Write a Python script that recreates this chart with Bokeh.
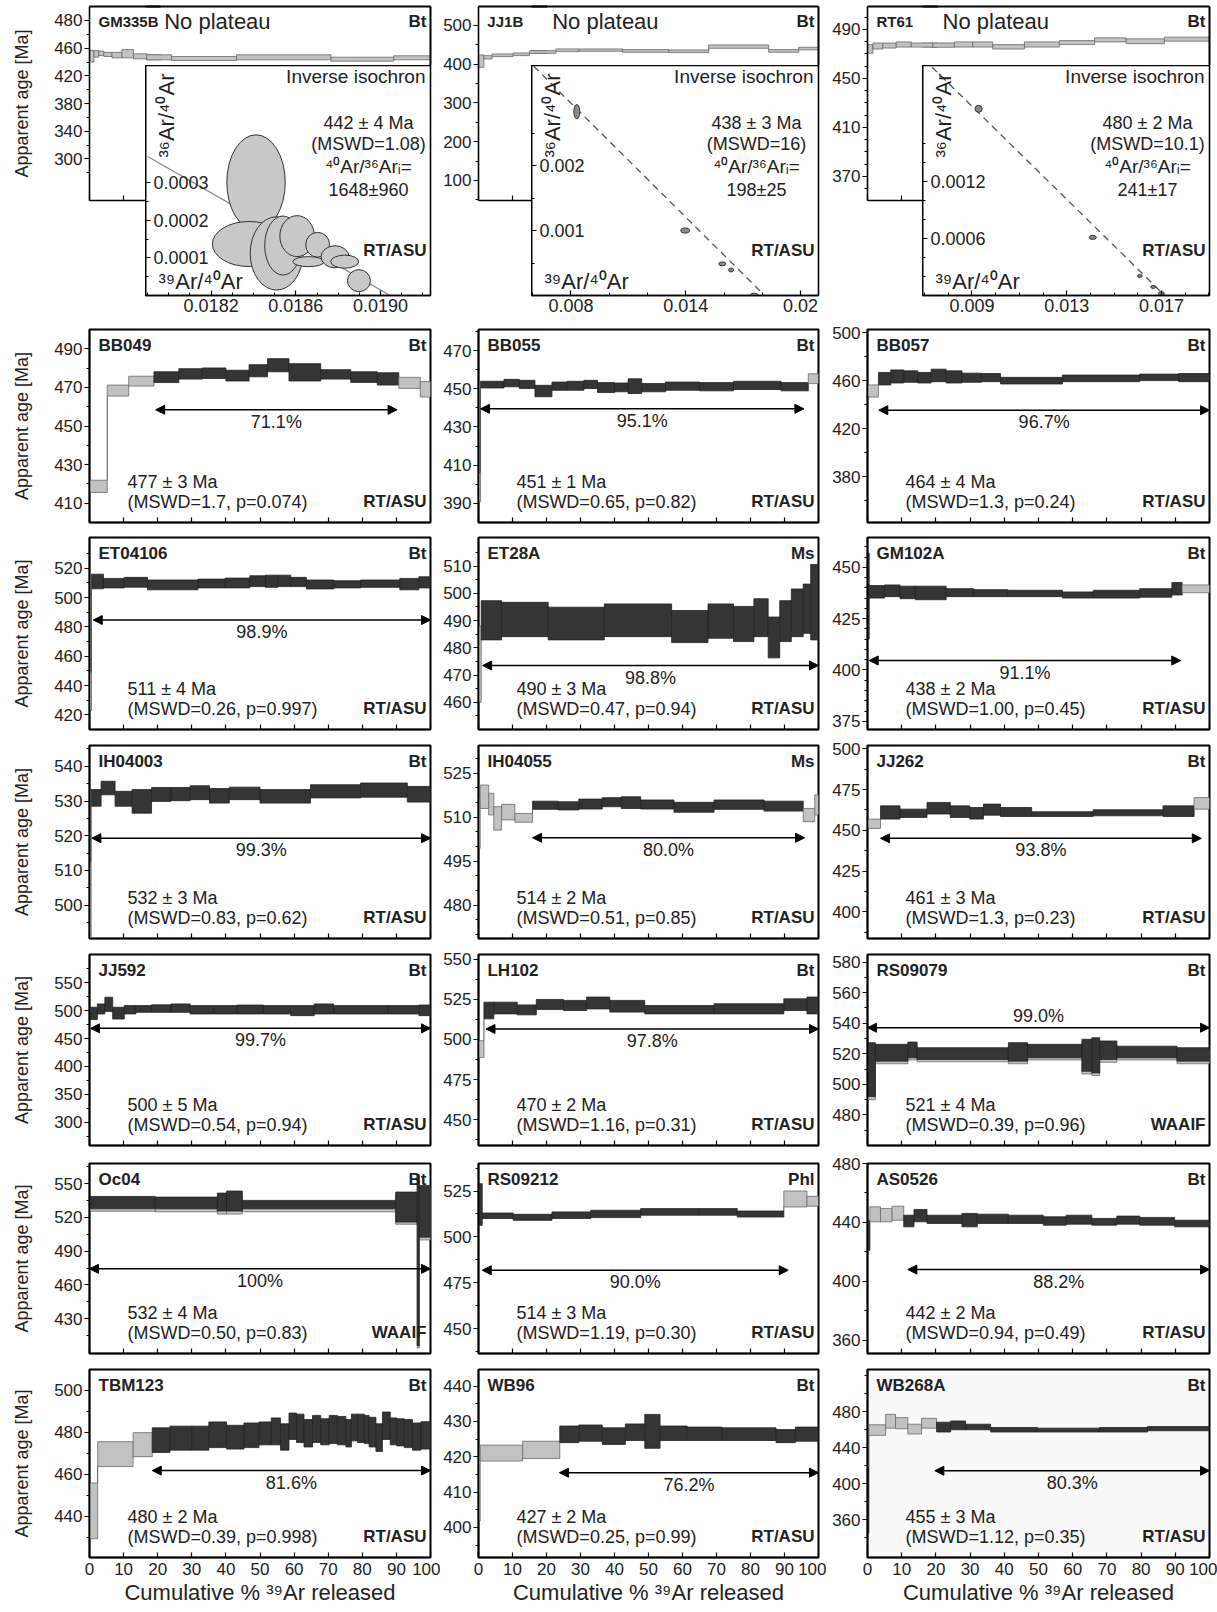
import math
from bokeh.plotting import figure
from bokeh.models import (ColumnDataSource, FixedTicker, Range1d, Arrow, NormalHead, LinearAxis,
                          Row, Column)
from bokeh.embed import file_html
from bokeh.resources import INLINE
from bokeh.core.properties import value

FONT = "Liberation Sans"
DARK = "#353535"
LIGHT = "#c2c2c2"
TXT = "#222222"

X_TICKS = [0, 10, 20, 30, 40, 50, 60, 70, 80, 90, 100]
X_TICK_LABELS = ["0", "10", "20", "30", "40", "50", "60", "70", "80", "90", "100"]

# ---------------- top row: age spectra without plateau ----------------
GM335B_cum = [0, 1.3, 2.7, 4.2, 6.6, 9.5, 12.9, 16.8, 24.1, 43.1, 70.8, 89.2, 100]
GM335B_lo = [450, 453.5, 454.7, 454, 453, 453, 452.3, 451.6, 451.1, 451.6, 450.6, 451.6]
GM335B_hi = [458.3, 458.3, 457.9, 457, 457, 459, 455.9, 455.2, 454, 455.2, 453.5, 454.5]
GM335B_ticks = [380, 400, 420, 440, 460, 480]
GM335B_tick_labels = ["300", "340", "380", "420", "460", "480"]

JJ1B_cum = [0, 1.6, 4.0, 10.3, 15.2, 23, 29.8, 42.5, 56.1, 67.8, 85.4, 94.2, 100]
JJ1B_lo = [392, 413.4, 419.5, 422.1, 428.1, 432.5, 433.3, 430.8, 429.9, 441.1, 430.8, 437]
JJ1B_hi = [424, 422.1, 426.4, 429, 435, 439.4, 439.4, 437.7, 436.8, 449.8, 437.7, 443.7]
JJ1B_ticks = [100, 200, 300, 400, 500]
JJ1B_tick_labels = ["100", "200", "300", "400", "500"]

RT61_cum = [0, 1.6, 4.5, 8.4, 12.8, 19.1, 25.4, 30.8, 36.6, 45.9, 56.1, 66.4, 75.6, 86.8, 100]
RT61_lo = [470.5, 473.9, 474.7, 475.5, 475.5, 475.3, 475.5, 475.5, 473.9, 475.5, 477.5, 479.7, 478.3, 480.3]
RT61_hi = [477.5, 478.8, 478.8, 479.7, 478.8, 478.8, 479.7, 479.7, 477.5, 479.7, 480.8, 483, 482.2, 483.6]
RT61_ticks = [370, 410, 450, 490]
RT61_tick_labels = ["370", "410", "450", "490"]

# ---------------- inverse isochron insets ----------------
ISO1_x = [0.018412, 0.018379, 0.018509, 0.018539, 0.018606, 0.018703, 0.01866, 0.018785, 0.018831, 0.018898]
ISO1_y = [0.000301, 0.000137, 0.000112, 0.000133, 0.000158, 0.000135, 0.0000901, 0.000103, 0.0000901, 0.0000395]
ISO1_w = [0.000276, 0.000346, 0.000249, 0.000172, 0.000163, 0.000113, 0.000148, 0.000132, 0.000132, 0.000108]
ISO1_h = [0.000253, 0.00012, 0.000195, 0.000157, 0.000109, 0.000066, 0.0000267, 0.0000587, 0.0000347, 0.0000587]
ISO1_line_x = [0.0179, 0.019046]
ISO1_line_y = [0.00037, 0.0]
ISO1_xticks = [0.0182, 0.0186, 0.0190]
ISO1_xtick_labels = ["0.0182", "0.0186", "0.0190"]
ISO1_yticks = [0.0001, 0.0002, 0.0003]
ISO1_ytick_labels = ["0.0001", "0.0002", "0.0003"]

ISO2_x = [0.008304, 0.013969, 0.015908, 0.016372, 0.017578]
ISO2_y = [0.00283, 0.001, 0.000487, 0.000393, 0.00001]
ISO2_w = [0.00031, 0.00046, 0.00036, 0.00026, 0.00041]
ISO2_h = [0.00022, 0.000078, 0.00006, 0.00006, 0.00005]
ISO2_line_x = [0.006048, 0.018125]
ISO2_line_y = [0.00353, 0.0]
ISO2_xticks = [0.008, 0.014, 0.02]
ISO2_xtick_labels = ["0.008", "0.014", "0.02"]
ISO2_yticks = [0.001, 0.002]
ISO2_ytick_labels = ["0.001", "0.002"]

ISO3_x = [0.00928, 0.0141, 0.01609, 0.01665, 0.0170]
ISO3_y = [0.00196, 0.00061, 0.000205, 0.0000895, 0.00002]
ISO3_w = [0.0003, 0.0003, 0.0002, 0.0002, 0.00025]
ISO3_h = [0.000073, 0.000042, 0.00003, 0.00003, 0.00004]
ISO3_line_x = [0.007316, 0.01714]
ISO3_line_y = [0.002397, 0.0]
ISO3_xticks = [0.009, 0.013, 0.017]
ISO3_xtick_labels = ["0.009", "0.013", "0.017"]
ISO3_yticks = [0.0006, 0.0012]
ISO3_ytick_labels = ["0.0006", "0.0012"]

# ---------------- plateau spectra ----------------
BB049_cum = [0, 5.2, 11.5, 18.9, 26.2, 33.1, 40.0, 46.8, 52.2, 58.5, 67.8, 76.6, 84.4, 90.7, 97, 100]
BB049_lo = [415.6, 465.5, 470.7, 472.5, 474.3, 474.6, 473.3, 475.5, 478.1, 473.3, 474.3, 472.6, 471.2, 469.5, 465]
BB049_hi = [421.9, 471.2, 475.8, 478.1, 479.7, 480.1, 478.9, 481.8, 484.9, 482.3, 479.2, 478.1, 477.6, 475.2, 473]
BB049_flags = "LLLDDDDDDDDDDLL"

BB055_cum = [0, 0.6, 7.5, 12, 16.6, 21.6, 26, 31, 35, 40, 44, 48, 55, 65, 75, 89, 97, 100]
BB055_lo = [391, 450.4, 451, 450.1, 445.8, 449.2, 449.2, 450.1, 448, 448.4, 447.5, 448.4, 449.2, 448.9, 449.6, 448.9, 452.7]
BB055_hi = [406, 453.9, 454.9, 454.4, 451.8, 453.5, 453.9, 454.4, 453.2, 453, 455.2, 452.7, 453.5, 453.2, 453.9, 453.2, 457.8]
BB055_flags = "LDDDDDDDDDDDDDDDL"

BB057_cum = [0, 3.2, 6.8, 10.6, 14.7, 18.6, 23, 27.6, 33.3, 38.9, 57, 79.6, 91, 100]
BB057_lo = [446.3, 456.4, 458, 458.6, 458, 459.1, 458, 458.6, 459.1, 457.2, 459.1, 460, 459.1]
BB057_hi = [456.4, 466.8, 468.9, 468.1, 466.8, 469.5, 468.1, 466.2, 465.9, 462.7, 464.6, 465.4, 465.9]
BB057_flags = "LDDDDDDDDDDDD"

ET04106_cum = [0, 0.6, 4.1, 10.2, 17, 31.8, 39.8, 47, 51.6, 55.2, 59, 63.6, 71.6, 79.5, 91, 96.6, 100]
ET04106_lo = [423, 506, 506.6, 507.1, 505.3, 506.6, 506.6, 507.5, 507, 507.5, 507.5, 505.9, 506.6, 507, 505.3, 506.6]
ET04106_hi = [449, 516, 513.1, 513.8, 512, 512.6, 513.3, 514.9, 515.3, 515.3, 513.8, 512, 511.5, 512, 513.1, 514.2]
ET04106_flags = "LDDDDDDDDDDDDDDD"

ET28A_cum = [0, 0.8, 6.8, 20.5, 37, 56.8, 67.5, 75, 81, 85.2, 88.6, 92, 95.5, 97.7, 100]
ET28A_lo = [460, 482.9, 484.1, 482.9, 484.1, 481.9, 483.5, 482.3, 484.1, 476.3, 482.3, 484.1, 485.3, 482.9]
ET28A_hi = [488, 497.3, 496.7, 494.9, 496.1, 493.7, 496.1, 495.2, 498, 491.3, 497.3, 501.6, 503.4, 510.6]
ET28A_flags = "LDDDDDDDDDDDDD"

GM102A_cum = [0, 0.5, 5, 9.5, 14, 23, 31, 41, 57, 66, 79.6, 89, 92, 100]
GM102A_lo = [415, 435, 435.7, 434.7, 434.2, 435.7, 435.7, 435.7, 435, 435, 435.4, 436.5, 437.6]
GM102A_hi = [457, 441.1, 441.4, 440.8, 440.8, 439.6, 439.1, 438.8, 438, 438.8, 439.6, 442.6, 441.4]
GM102A_flags = "DDDDDDDDDDDDL"

IH04003_cum = [0, 0.5, 3.4, 7.5, 12.5, 18.2, 23.9, 29.5, 35.2, 41, 50, 64.8, 79.5, 93.2, 100]
IH04003_lo = [490.5, 528.5, 531.8, 528.5, 526.5, 529.9, 530.1, 530.4, 529.4, 530.4, 529.4, 530.9, 531.1, 529.7]
IH04003_hi = [512.6, 533.3, 535.7, 532.8, 533.3, 533.9, 533.9, 534.4, 533.6, 534, 533.3, 534.7, 535.2, 534.2]
IH04003_flags = "LDDDDDDDDDDDDD"

IH04055_cum = [0, 0.5, 3, 4.5, 6.8, 10.7, 15.9, 23.4, 29.5, 36.4, 42, 47.7, 57.5, 69.3, 84, 95.5, 98.9, 100]
IH04055_lo = [499.4, 513, 510.8, 505.6, 509.1, 508.3, 512.7, 512.5, 512.8, 513.6, 513, 512.8, 511.7, 512.7, 512.1, 508.5, 510.8]
IH04055_hi = [516.5, 521, 518.2, 513.6, 514.4, 511.3, 515.5, 515.3, 516.2, 516.7, 517, 515.9, 515.1, 515.9, 515.5, 513, 517.6]
IH04055_flags = "LLLLLLDDDDDDDDDLL"

JJ262_cum = [0, 3.8, 9.5, 17.4, 24.2, 29.9, 33.9, 38.9, 48, 66, 86.4, 95.5, 100]
JJ262_lo = [451.2, 456.9, 457.9, 460, 457.9, 456.9, 459.3, 458.5, 458.5, 458.9, 458.5, 463]
JJ262_hi = [456.9, 465, 463, 467.1, 465, 464, 466.1, 464, 461.4, 462.6, 465, 470.1]
JJ262_flags = "LDDDDDDDDDDL"

JJ592_cum = [0, 2.3, 4.5, 6.8, 10.2, 13.6, 18.2, 23.9, 29.5, 36.4, 43.2, 51, 59, 65.9, 71.6, 87.5, 96.6, 100]
JJ592_lo = [484, 494, 498.3, 485, 494, 497, 497, 497, 494, 494, 494, 494, 491, 494, 494, 494, 491]
JJ592_hi = [506, 512, 524, 506, 509, 509, 510.3, 512, 509, 509, 510, 509, 509, 512, 509, 509, 510]
JJ592_flags = "DDDDDDDDDDDDDDDDD"

LH102_cum = [0, 1.6, 4.5, 11.4, 17, 25, 31.8, 38.6, 48.9, 69.3, 89.8, 96.6, 100]
LH102_lo = [488.7, 512.8, 515.9, 515.3, 518.6, 518, 519, 517, 515.9, 515.9, 518, 515.9]
LH102_hi = [499.2, 523.2, 523.2, 521.5, 524.9, 524.3, 526.4, 524.3, 521.1, 522.2, 525.3, 526.4]
LH102_flags = "LDDDDDDDDDDD"

RS09079_cum = [0, 2.3, 11.8, 14.5, 41.2, 46.8, 62.7, 65.6, 67.9, 72.9, 90.5, 100]
RS09079_lo = [492, 515.2, 517.4, 516.3, 515.2, 517.4, 508.6, 507.5, 516.3, 517.4, 515.2]
RS09079_hi = [527.3, 526.2, 527.7, 524, 527.3, 526.2, 529.5, 530.5, 528.4, 525, 524]
RS09079_flags = "DDDDDDDDDDD"
RS09079_under_lo = [490, 513.5, 516, 514.8, 513.5, 516, 506.8, 505.8, 514.5, 516, 513.5]
RS09079_under_hi = [526, 524.5, 526, 522.5, 525.5, 524.5, 527.5, 528.5, 526.5, 523.5, 522.5]

Oc04_cum = [0, 19.3, 37.5, 40.2, 44.8, 89.8, 96.1, 96.7, 100]
Oc04_lo = [527.7, 527.7, 525.7, 525.7, 527.7, 515.9, 406, 502.5]
Oc04_hi = [538.7, 538.1, 541.7, 543.5, 535.2, 542.6, 558, 548.5]
Oc04_flags = "DDDDDDDD"
Oc04_under_lo = [525.5, 525, 523, 523, 525, 514, 404, 500]
Oc04_under_hi = [536.5, 536, 539.5, 541, 533, 540, 556, 546]

RS09212_cum = [0, 1.1, 10.2, 21.6, 33, 47.7, 64.8, 76.1, 89.8, 96.6, 100]
RS09212_lo = [506.3, 510, 509, 510, 510.5, 511.8, 511.8, 510.8, 516.3, 516.7]
RS09212_hi = [529, 513, 512.3, 513.6, 514.5, 515.4, 515.4, 514.1, 525, 522.1]
RS09212_flags = "DDDDDDDDLL"

AS0526_cum = [0, 0.7, 3.8, 7.2, 10.6, 13.6, 17.4, 27.6, 32.1, 41.2, 51.4, 58.1, 65.6, 72.9, 79.6, 89.8, 100]
AS0526_lo = [421, 440.4, 440.4, 441.5, 437, 440.4, 439.3, 437, 439.3, 439.3, 438.1, 438.8, 438.1, 438.8, 438.1, 437]
AS0526_hi = [441.5, 450.6, 449.5, 451, 444.9, 448.8, 444.9, 446.1, 445.6, 444.9, 443.8, 444.9, 442.7, 444.3, 443.4, 441.5]
AS0526_flags = "DLLLDDDDDDDDDDDD"

TBM123_cum = [0, 2.4, 12.8, 18.4, 23.6, 30.1, 35, 40.2, 45.3, 49.7, 53.3, 56, 58.5, 60.7, 62.9, 65.4, 67.8,
              70.3, 72.7, 75.2, 76.8, 78.6, 80.6, 82, 84, 85.9, 88.2, 90.1, 92.3, 94.7, 97.2, 100]
TBM123_lo = [429.4, 463.7, 468.4, 470.4, 471.5, 471.5, 472.7, 472, 472.7, 474, 474, 471.5, 476.6, 475.1, 473,
             475.1, 474, 474.6, 474, 473, 475.9, 475.1, 474.6, 473, 470.9, 476.6, 474, 473.5, 472.7, 471.5, 472]
TBM123_hi = [455.9, 475.5, 479.8, 482.1, 482.9, 482.9, 484.9, 483.3, 484.4, 484.9, 486.8, 484, 489.1, 488.6, 486,
             488, 486.4, 488, 487.5, 486, 488.6, 488.6, 488, 487.1, 484, 489.6, 486.8, 486.4, 486, 484.4, 485]
TBM123_flags = "LLL" + "D" * 28

WB96_cum = [0, 0.5, 13, 23.9, 29.5, 36.4, 43.2, 48.9, 53.4, 61.4, 71.6, 87.5, 93.2, 100]
WB96_lo = [401.8, 418.8, 419.5, 424, 424.4, 423.5, 424.6, 422.4, 424.6, 424.6, 424.6, 424, 424.4]
WB96_hi = [422.5, 423.3, 424.4, 428.7, 429, 428.2, 429.3, 432, 428.7, 428.4, 428.2, 427.7, 428.4]
WB96_flags = "LLLDDDDDDDDDD"

WB268A_cum = [0, 0.4, 5.3, 8.2, 11.8, 15.8, 20.2, 24.3, 28.7, 36, 49.7, 67.8, 81.9, 100]
WB268A_lo = [345, 453.8, 461.8, 461.1, 455.3, 461.8, 457.5, 460, 460, 457.5, 457.5, 457.5, 458.9]
WB268A_hi = [418, 465.5, 477.1, 473.5, 466.2, 472.7, 468.4, 469.8, 466.2, 462.5, 461.8, 462.5, 463.6]
WB268A_flags = "DLLLLLDDDDDDD"

# ---------------- panel descriptions ----------------
TOP = [
    dict(name="GM335B", mineral="Bt", cum=GM335B_cum, lo=GM335B_lo, hi=GM335B_hi, yr=(350, 490.1),
         yt=GM335B_ticks, ytl=GM335B_tick_labels, ym=[370, 390, 410, 430, 450, 470],
         iso=dict(x=ISO1_x, y=ISO1_y, w=ISO1_w, h=ISO1_h, lx=ISO1_line_x, ly=ISO1_line_y, dash="solid",
                  lc="#8a8a8a", fill="#c8c8c8", xr=(0.01789, 0.019236), yr=(0.0, 0.000612),
                  xt=ISO1_xticks, xtl=ISO1_xtick_labels,
                  xm=[0.0179, 0.0180, 0.0181, 0.0183, 0.0184, 0.0185, 0.0187, 0.0188, 0.0189, 0.0191, 0.0192],
                  yt=ISO1_yticks, ytl=ISO1_ytick_labels, ym=[0.00005, 0.00015, 0.00025],
                  age="442 ± 4 Ma", mswd="(MSWD=1.08)", ratio="1648±960", ystand=-63)),
    dict(name="JJ1B", mineral="Bt", cum=JJ1B_cum, lo=JJ1B_lo, hi=JJ1B_hi, yr=(48, 549),
         yt=JJ1B_ticks, ytl=JJ1B_tick_labels, ym=[50, 150, 250, 350, 450],
         iso=dict(x=ISO2_x, y=ISO2_y, w=ISO2_w, h=ISO2_h, lx=ISO2_line_x, ly=ISO2_line_y, dash="7 5",
                  lc="#555555", fill="#8a8a8a", xr=(0.005935, 0.020941), yr=(0.0, 0.00354),
                  xt=ISO2_xticks, xtl=ISO2_xtick_labels, xm=[0.006, 0.010, 0.012, 0.016, 0.018],
                  yt=ISO2_yticks, ytl=ISO2_ytick_labels, ym=[0.0005, 0.0015, 0.0025],
                  age="438 ± 3 Ma", mswd="(MSWD=16)", ratio="198±25", ystand=-53)),
    dict(name="RT61", mineral="Bt", cum=RT61_cum, lo=RT61_lo, hi=RT61_hi, yr=(350.3, 508.6),
         yt=RT61_ticks, ytl=RT61_tick_labels, ym=[360, 380, 390, 400, 420, 430, 440, 460, 470, 480, 500],
         iso=dict(x=ISO3_x, y=ISO3_y, w=ISO3_w, h=ISO3_h, lx=ISO3_line_x, ly=ISO3_line_y, dash="7 5",
                  lc="#555555", fill="#8a8a8a", xr=(0.00691, 0.01903), yr=(0.0, 0.002415),
                  xt=ISO3_xticks, xtl=ISO3_xtick_labels,
                  xm=[0.007, 0.008, 0.010, 0.011, 0.012, 0.014, 0.015, 0.016, 0.018, 0.019],
                  yt=ISO3_yticks, ytl=ISO3_ytick_labels, ym=[0.0002, 0.0004, 0.0008, 0.0010, 0.0014, 0.0016],
                  age="480 ± 2 Ma", mswd="(MSWD=10.1)", ratio="241±17", ystand=-63)),
]


def P(name, mineral, lab, age, mswd, pct, ps, pe, py, yr, yt, ym, cum, lo, hi, flags, above=False,
      under=None, bg="white"):
    return dict(name=name, mineral=mineral, lab=lab, age=age, mswd=mswd, pct=pct, ps=ps, pe=pe, py=py,
                yr=yr, yt=yt, ytl=[str(t) for t in yt], ym=ym, cum=cum, lo=lo, hi=hi, flags=flags,
                above=above, under=under, bg=bg)


ROWS = [
    [P("BB049", "Bt", "RT/ASU", "477 ± 3 Ma", "(MSWD=1.7, p=0.074)", "71.1%", 19.4, 90.2, 458.4, (400, 500),
       [410, 430, 450, 470, 490], [420, 440, 460, 480], BB049_cum, BB049_lo, BB049_hi, BB049_flags),
     P("BB055", "Bt", "RT/ASU", "451 ± 1 Ma", "(MSWD=0.65, p=0.82)", "95.1%", 0.6, 95.7, 439.5, (380, 481),
       [390, 410, 430, 450, 470], [400, 420, 440, 460, 480], BB055_cum, BB055_lo, BB055_hi, BB055_flags),
     P("BB057", "Bt", "RT/ASU", "464 ± 4 Ma", "(MSWD=1.3, p=0.24)", "96.7%", 3.3, 100, 435.4, (342, 502.5),
       [380, 420, 460, 500], [360, 400, 440, 480], BB057_cum, BB057_lo, BB057_hi, BB057_flags)],
    [P("ET04106", "Bt", "RT/ASU", "511 ± 4 Ma", "(MSWD=0.26, p=0.997)", "98.9%", 1.1, 100, 484.7, (410, 541),
       [420, 440, 460, 480, 500, 520], [430, 450, 470, 490, 510, 530], ET04106_cum, ET04106_lo, ET04106_hi,
       ET04106_flags),
     P("ET28A", "Ms", "RT/ASU", "490 ± 3 Ma", "(MSWD=0.47, p=0.94)", "98.8%", 1.2, 100, 473.5, (450, 520.5),
       [460, 470, 480, 490, 500, 510], [455, 465, 475, 485, 495, 505, 515], ET28A_cum, ET28A_lo, ET28A_hi,
       ET28A_flags),
     P("GM102A", "Bt", "RT/ASU", "438 ± 2 Ma", "(MSWD=1.00, p=0.45)", "91.1%", 0.5, 91.6, 404.6, (371, 464.5),
       [375, 400, 425, 450], [380, 385, 390, 395, 405, 410, 415, 420, 430, 435, 440, 445, 455, 460],
       GM102A_cum, GM102A_lo, GM102A_hi, GM102A_flags)],
    [P("IH04003", "Bt", "RT/ASU", "532 ± 3 Ma", "(MSWD=0.83, p=0.62)", "99.3%", 0.7, 100, 519.3, (490.4, 546),
       [500, 510, 520, 530, 540], [495, 505, 515, 525, 535, 545], IH04003_cum, IH04003_lo, IH04003_hi,
       IH04003_flags),
     P("IH04055", "Ms", "RT/ASU", "514 ± 2 Ma", "(MSWD=0.51, p=0.85)", "80.0%", 15.9, 95.9, 503, (468.6, 534.5),
       [480, 495, 510, 525], [470, 475, 485, 490, 500, 505, 515, 520, 530], IH04055_cum, IH04055_lo,
       IH04055_hi, IH04055_flags),
     P("JJ262", "Bt", "RT/ASU", "461 ± 3 Ma", "(MSWD=1.3, p=0.23)", "93.8%", 3.8, 97.6, 445.1, (383.7, 502),
       [400, 425, 450, 475, 500], [387.5, 412.5, 437.5, 462.5, 487.5], JJ262_cum, JJ262_lo, JJ262_hi,
       JJ262_flags)],
    [P("JJ592", "Bt", "RT/ASU", "500 ± 5 Ma", "(MSWD=0.54, p=0.94)", "99.7%", 0.3, 100, 468.3, (258.5, 600.5),
       [300, 350, 400, 450, 500, 550], [275, 325, 375, 425, 475, 525, 575], JJ592_cum, JJ592_lo, JJ592_hi,
       JJ592_flags),
     P("LH102", "Bt", "RT/ASU", "470 ± 2 Ma", "(MSWD=1.16, p=0.31)", "97.8%", 2.2, 100, 506.5, (433.9, 552.9),
       [450, 475, 500, 525, 550], [437.5, 462.5, 487.5, 512.5, 537.5], LH102_cum, LH102_lo, LH102_hi,
       LH102_flags),
     P("RS09079", "Bt", "WAAIF", "521 ± 4 Ma", "(MSWD=0.39, p=0.96)", "99.0%", 0, 100, 537.1, (460, 585),
       [480, 500, 520, 540, 560, 580], [470, 490, 510, 530, 550, 570], RS09079_cum, RS09079_lo, RS09079_hi,
       RS09079_flags, above=True, under=(RS09079_under_lo, RS09079_under_hi))],
    [P("Oc04", "Bt", "WAAIF", "532 ± 4 Ma", "(MSWD=0.50, p=0.83)", "100%", 0, 100, 474.3, (399, 568),
       [430, 460, 490, 520, 550], [415, 445, 475, 505, 535, 565], Oc04_cum, Oc04_lo, Oc04_hi, Oc04_flags,
       under=(Oc04_under_lo, Oc04_under_hi)),
     P("RS09212", "Phl", "RT/ASU", "514 ± 3 Ma", "(MSWD=1.19, p=0.30)", "90.0%", 1.1, 91.1, 481.8, (436.4, 540),
       [450, 475, 500, 525], [437.5, 462.5, 487.5, 512.5, 537.5], RS09212_cum, RS09212_lo, RS09212_hi,
       RS09212_flags),
     P("AS0526", "Bt", "RT/ASU", "442 ± 2 Ma", "(MSWD=0.94, p=0.49)", "88.2%", 11.8, 100, 408, (351, 480),
       [360, 400, 440, 480], [380, 420, 460], AS0526_cum, AS0526_lo, AS0526_hi, AS0526_flags)],
    [P("TBM123", "Bt", "RT/ASU", "480 ± 2 Ma", "(MSWD=0.39, p=0.998)", "81.6%", 18.4, 100, 461.8, (420.5, 509.8),
       [440, 460, 480, 500], [430, 450, 470, 490], TBM123_cum, TBM123_lo, TBM123_hi, TBM123_flags),
     P("WB96", "Bt", "RT/ASU", "427 ± 2 Ma", "(MSWD=0.25, p=0.99)", "76.2%", 23.8, 100, 415.5, (391.5, 444.7),
       [400, 410, 420, 430, 440], [395, 405, 415, 425, 435], WB96_cum, WB96_lo, WB96_hi, WB96_flags),
     P("WB268A", "Bt", "RT/ASU", "455 ± 3 Ma", "(MSWD=1.12, p=0.35)", "80.3%", 19.7, 100, 414.5, (318, 527),
       [360, 400, 440, 480], [340, 380, 420, 460, 500, 520], WB268A_cum, WB268A_lo, WB268A_hi, WB268A_flags,
       bg="#f9f9f9")],
]

# ---------------- layout geometry (pixels, page origin 0,0) ----------------
COLS = [dict(w=440, bl=89, br=10), dict(w=386, bl=37, br=8), dict(w=391, bl=41, br=8)]
SPLIT = [56, 54, 55]          # inset left edge measured from the step-panel frame's left edge
EXT = 16                      # the left part reaches this far under the strip (overlapped, transparent)
TOP_H, TOP_BT, TOP_FH = 319, 6, 194
A_FH = 59                      # height of the step-panel strip above the inset
ROW_GEOM = [dict(h=208, bt=10, bb=5), dict(h=210, bt=10, bb=8), dict(h=204, bt=8, bb=3),
            dict(h=208, bt=13, bb=4), dict(h=208, bt=14, bb=4), dict(h=253, bt=12, bb=53)]


def txt(p, x, y, s, size="18px", align="left", bold=False, angle=0.0, color=TXT):
    p.text(x=[x], y=[y], text=[s], text_font=value(FONT), text_font_size=size, text_align=align,
           text_baseline="middle", text_font_style="bold" if bold else "normal", text_color=color,
           angle=angle)


def style_axis(ax, ticks, labels, minor, inward=False, size="17px"):
    ax.ticker = FixedTicker(ticks=ticks, minor_ticks=minor)
    ax.major_label_overrides = {t: l for t, l in zip(ticks, labels)}
    ax.major_label_text_font = FONT
    ax.major_label_text_font_size = size
    ax.major_label_text_color = TXT
    ax.axis_line_color = "black"
    ax.axis_line_width = 1.6
    ax.major_tick_line_color = "black"
    ax.minor_tick_line_color = "black"
    ax.major_tick_line_width = 1.2
    ax.minor_tick_line_width = 1
    if inward:
        ax.major_tick_in, ax.major_tick_out = 5, 0
        ax.minor_tick_in, ax.minor_tick_out = 3, 0
    else:
        ax.major_tick_in, ax.major_tick_out = 0, 5
        ax.minor_tick_in, ax.minor_tick_out = 0, 3


def line_axis():
    ax = LinearAxis(ticker=FixedTicker(ticks=[], minor_ticks=[]))
    ax.major_label_standoff = 0
    ax.major_label_text_font_size = "0px"
    ax.major_tick_in = ax.major_tick_out = 0
    ax.minor_tick_in = ax.minor_tick_out = 0
    ax.axis_line_color = "black"
    ax.axis_line_width = 2
    return ax


def draw_steps(p, cum, lo, hi, flags):
    fills = [DARK if f == "D" else LIGHT for f in flags]
    lines = ["#222222" if f == "D" else "#6a6a6a" for f in flags]
    src = ColumnDataSource(dict(left=cum[:-1], right=cum[1:], bottom=lo, top=hi, fill=fills, line=lines))
    p.quad(left="left", right="right", bottom="bottom", top="top", fill_color="fill", line_color="line",
           line_width=0.8, source=src)
    xs, ya, yb = [], [], []
    for i in range(len(lo) - 1):
        if hi[i] < lo[i + 1]:
            xs.append(cum[i + 1]); ya.append(hi[i]); yb.append(lo[i + 1])
        elif lo[i] > hi[i + 1]:
            xs.append(cum[i + 1]); ya.append(hi[i + 1]); yb.append(lo[i])
    if xs:
        p.segment(x0=xs, y0=ya, x1=xs, y1=yb, line_color="#555555", line_width=1)


def new_fig(w, h, xr, yr, bl, br, bt, bb, **kw):
    p = figure(width=w, height=h, x_range=Range1d(*xr), y_range=Range1d(*yr),
               output_backend="svg", toolbar_location=None,
               min_border_left=bl, min_border_right=br, min_border_top=bt, min_border_bottom=bb, **kw)
    p.grid.visible = False
    p.outline_line_color = "black"
    p.outline_line_width = 2
    p.background_fill_color = "white"
    p.border_fill_color = "white"
    return p


def set_x_axis(p, show_labels):
    xa = p.xaxis[0]
    if show_labels:
        style_axis(xa, X_TICKS, X_TICK_LABELS, [], inward=True, size="17px")
        xa.major_label_standoff = 5
        xa.axis_label = "Cumulative % ³⁹Ar released"
        xa.axis_label_text_font = FONT
        xa.axis_label_text_font_size = "22px"
        xa.axis_label_text_font_style = "normal"
        xa.axis_label_text_color = TXT
        xa.axis_label_standoff = 2
    else:
        style_axis(xa, X_TICKS, [""] * len(X_TICKS), [], inward=True, size="0px")
        xa.major_label_standoff = 0


def set_y_axis(p, pn, col):
    ya = p.yaxis[0]
    style_axis(ya, pn["yt"], pn["ytl"], pn["ym"], inward=False, size="17px")
    ya.major_label_standoff = 2
    if col == 0:
        ya.axis_label = "Apparent age [Ma]"
        ya.axis_label_text_font = FONT
        ya.axis_label_text_font_size = "18px"
        ya.axis_label_text_font_style = "normal"
        ya.axis_label_text_color = TXT
        ya.axis_label_standoff = 19


def plateau_panel(pn, col, geom, last_row):
    h, bt, bb = geom["h"], geom["bt"], geom["bb"]
    c = COLS[col]
    fw = c["w"] - c["bl"] - c["br"]
    fh = h - bt - bb
    y0, y1 = pn["yr"]
    p = new_fig(c["w"], h, (0, 100), pn["yr"], c["bl"], c["br"], bt, bb)
    p.background_fill_color = pn["bg"]
    set_x_axis(p, last_row)
    set_y_axis(p, pn, col)
    if pn["under"] is not None:
        ulo, uhi = pn["under"]
        p.quad(left=pn["cum"][:-1], right=pn["cum"][1:], bottom=ulo, top=uhi, fill_color=LIGHT,
               line_color="#6a6a6a", line_width=0.8)
    draw_steps(p, pn["cum"], pn["lo"], pn["hi"], pn["flags"])

    def sx(px):
        return px / fw * 100.0

    def dy(px):
        return px / fh * (y1 - y0)

    txt(p, sx(9), y1 - dy(16), pn["name"], "17px", "left", True)
    txt(p, 100 - sx(4), y1 - dy(16), pn["mineral"], "17px", "right", True)
    txt(p, sx(38), y0 + dy(41), pn["age"], "18px")
    txt(p, sx(38), y0 + dy(21), pn["mswd"], "18px")
    txt(p, 100 - sx(4), y0 + dy(21), pn["lab"], "17px", "right", True)
    p.add_layout(Arrow(x_start=pn["ps"], y_start=pn["py"], x_end=pn["pe"], y_end=pn["py"],
                       line_color="black", line_width=1.5,
                       start=NormalHead(size=9, fill_color="black", line_color="black"),
                       end=NormalHead(size=9, fill_color="black", line_color="black")))
    ly = pn["py"] + dy(12) if pn["above"] else pn["py"] - dy(12)
    txt(p, (pn["ps"] + pn["pe"]) / 2.0, ly, pn["pct"], "18px", "center")
    return p


def top_panel(pn, col):
    c = COLS[col]
    W, bl, br = c["w"], c["bl"], c["br"]
    fw = W - bl - br
    split = SPLIT[col]
    s = split / fw * 100.0                 # inset left edge, in % units
    se = (split + EXT) / fw * 100.0        # right end of the left part
    y0, y1 = pn["yr"]
    dyp = (y1 - y0) / TOP_FH
    ymid = y1 - A_FH * dyp
    flags = "L" * len(pn["lo"])
    bottom_b = TOP_H - TOP_BT - TOP_FH

    # left part of the step panel: full height, with the y axis and the sample name
    b = new_fig(bl + split + EXT, TOP_H, (0, se), (y0, y1), bl, 0, TOP_BT, bottom_b)
    b.outline_line_color = None
    set_x_axis(b, False)
    set_y_axis(b, pn, col)
    b.add_layout(line_axis(), "above")
    draw_steps(b, pn["cum"], pn["lo"], pn["hi"], flags)
    txt(b, 9 / fw * 100, y1 - 15 * dyp, pn["name"], "15px", "left", True)

    # strip of the step panel above the inset (transparent, overlaps the left part by EXT px)
    aw = W - bl - split
    a = new_fig(aw, TOP_BT + A_FH, (s, 100), (ymid, y1), 0, br, TOP_BT, 0,
                x_axis_location=None, y_axis_location=None)
    a.outline_line_color = None
    a.background_fill_color = None
    a.border_fill_color = None
    a.add_layout(line_axis(), "above")
    a.add_layout(line_axis(), "right")
    draw_steps(a, pn["cum"], pn["lo"], pn["hi"], flags)
    txt(a, 37.5, y1 - 15 * dyp, "No plateau", "22px", "center")
    txt(a, 100 - 4 / fw * 100, y1 - 15 * dyp, pn["mineral"], "17px", "right", True)

    # inverse isochron inset
    iso = pn["iso"]
    ih = TOP_H - TOP_BT - A_FH
    ibb = 24
    ifw = aw - br
    ifh = ih - ibb
    q = new_fig(aw, ih, iso["xr"], iso["yr"], 0, br, 0, ibb)
    q.outline_line_width = 1.6
    style_axis(q.xaxis[0], iso["xt"], iso["xtl"], iso["xm"], inward=True, size="18px")
    q.xaxis[0].major_label_standoff = 3
    style_axis(q.yaxis[0], iso["yt"], iso["ytl"], iso["ym"], inward=True, size="18px")
    q.yaxis[0].major_label_standoff = iso["ystand"]
    q.line(iso["lx"], iso["ly"], line_color=iso["lc"], line_width=1.3, line_dash=iso["dash"])
    q.ellipse(x=iso["x"], y=iso["y"], width=iso["w"], height=iso["h"], fill_color=iso["fill"],
              line_color="#333333", line_width=1)
    ix0, ix1 = iso["xr"]
    iy0, iy1 = iso["yr"]
    px_x = (ix1 - ix0) / ifw
    px_y = (iy1 - iy0) / ifh
    txt(q, ix1 - 5 * px_x, iy1 - 11 * px_y, "Inverse isochron", "19px", "right")
    cx = ix1 - 62 * px_x
    txt(q, cx, iy1 - 57 * px_y, iso["age"], "18px", "center")
    txt(q, cx, iy1 - 78 * px_y, iso["mswd"], "18px", "center")
    txt(q, cx, iy1 - 101 * px_y, "⁴⁰Ar/³⁶Arᵢ=", "19px", "center")
    txt(q, cx, iy1 - 124 * px_y, iso["ratio"], "18px", "center")
    txt(q, ix1 - 4 * px_x, iy0 + 45 * px_y, "RT/ASU", "17px", "right", True)
    txt(q, ix0 + 13 * px_x, iy0 + 14 * px_y, "³⁹Ar/⁴⁰Ar", "22px", "left")
    txt(q, ix0 + 21 * px_x, iy1 - 50 * px_y, "³⁶Ar/⁴⁰Ar", "22px", "center", angle=math.pi / 2)

    right = Column(children=[a, q], styles={"margin-left": "-%dpx" % EXT})
    return Row(children=[b, right])


rows = [Row(children=[top_panel(TOP[i], i) for i in range(3)])]
for r, row_panels in enumerate(ROWS):
    geom = ROW_GEOM[r]
    last = (r == len(ROWS) - 1)
    rows.append(Row(children=[plateau_panel(pn, i, geom, last) for i, pn in enumerate(row_panels)]))

layout = Column(children=rows)

with open("out.html", "w") as f:
    f.write(file_html(layout, INLINE, title="Ar-Ar age spectra"))
